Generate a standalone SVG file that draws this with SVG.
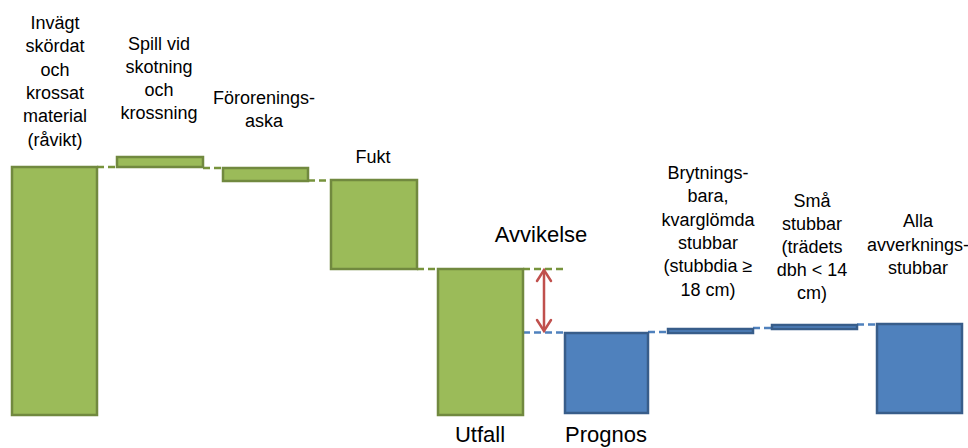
<svg xmlns="http://www.w3.org/2000/svg" width="968" height="448" viewBox="0 0 968 448">
<style>
  .g{fill:#9BBB59;stroke:#71893F;stroke-width:2.5}
  .b{fill:#4F81BD;stroke:#385D8A;stroke-width:2.5}
  .t{font-family:"Liberation Sans",Arial,sans-serif;font-size:18px;fill:#000;text-anchor:middle}
  .big{font-size:22px}
  .dg{stroke:#77933C;stroke-width:2.5;stroke-dasharray:7 4;fill:none}
  .db{stroke:#4F81BD;stroke-width:2.5;stroke-dasharray:7 4;fill:none}
  .arr{stroke:#C0504D;stroke-width:2.5;fill:none;stroke-linecap:round}
</style>
<rect width="968" height="448" fill="#fff"/>

<g id="connectors">
  <line class="dg" x1="97" y1="167" x2="117" y2="167"/>
  <line class="dg" x1="203" y1="168" x2="223" y2="168"/>
  <line class="dg" x1="308" y1="180.5" x2="331" y2="180.5"/>
  <line class="dg" x1="417" y1="269" x2="438" y2="269"/>
  <line class="dg" x1="523" y1="269" x2="564" y2="269"/>
  <line class="db" x1="523" y1="332.5" x2="565" y2="332.5"/>
  <line class="db" x1="648" y1="332" x2="668" y2="332"/>
  <line class="db" x1="753" y1="328" x2="772" y2="328"/>
  <line class="db" x1="857" y1="324.5" x2="877" y2="324.5"/>
  <g id="avvikelse-arrow">
    <line class="arr" x1="544" y1="270" x2="544" y2="331"/>
    <polyline class="arr" points="537,281 544,270 551,281"/>
    <polyline class="arr" points="537,320 544,331 551,320"/>
  </g>
</g>

<g id="n1">
  <rect class="g" x="12" y="167" width="85" height="248"/>
  <text class="t"><tspan x="55" y="29">Invägt</tspan><tspan x="55" y="52.3">skördat</tspan><tspan x="55" y="75.6">och</tspan><tspan x="55" y="98.9">krossat</tspan><tspan x="55" y="122.2">material</tspan><tspan x="55" y="145.5">(råvikt)</tspan></text>
</g>
<g id="n2">
  <rect class="g" x="117" y="157" width="86" height="10"/>
  <text class="t"><tspan x="159" y="49.5">Spill vid</tspan><tspan x="159" y="72.8">skotning</tspan><tspan x="159" y="96.1">och</tspan><tspan x="159" y="119.4">krossning</tspan></text>
</g>
<g id="n3">
  <rect class="g" x="223" y="168" width="85" height="13"/>
  <text class="t"><tspan x="264" y="104">Förorenings-</tspan><tspan x="264" y="127.3">aska</tspan></text>
</g>
<g id="n4">
  <rect class="g" x="331" y="180" width="86" height="89"/>
  <text class="t"><tspan x="373" y="162.5">Fukt</tspan></text>
</g>
<g id="n5">
  <rect class="g" x="438" y="269" width="85" height="146"/>
  <text class="t big" x="480" y="442">Utfall</text>
</g>
<g id="n-avvikelse">
  <text class="t big" x="541" y="242">Avvikelse</text>
</g>
<g id="n6">
  <rect class="b" x="565" y="333" width="83" height="80"/>
  <text class="t big" x="606" y="442">Prognos</text>
</g>
<g id="n7">
  <rect class="b" x="668" y="329" width="85" height="4"/>
  <text class="t"><tspan x="708" y="179">Brytnings-</tspan><tspan x="708" y="202.3">bara,</tspan><tspan x="708" y="225.6">kvarglömda</tspan><tspan x="708" y="248.9">stubbar</tspan><tspan x="708" y="272.2">(stubbdia ≥</tspan><tspan x="708" y="295.5">18 cm)</tspan></text>
</g>
<g id="n8">
  <rect class="b" x="772" y="325" width="85" height="4"/>
  <text class="t"><tspan x="812" y="207">Små</tspan><tspan x="812" y="230">stubbar</tspan><tspan x="812" y="253">(trädets</tspan><tspan x="812" y="276">dbh &lt; 14</tspan><tspan x="812" y="299">cm)</tspan></text>
</g>
<g id="n9">
  <rect class="b" x="877" y="324" width="85" height="89"/>
  <text class="t"><tspan x="918" y="227.3">Alla</tspan><tspan x="918" y="250.6">avverknings-</tspan><tspan x="918" y="273.9">stubbar</tspan></text>
</g>
</svg>
